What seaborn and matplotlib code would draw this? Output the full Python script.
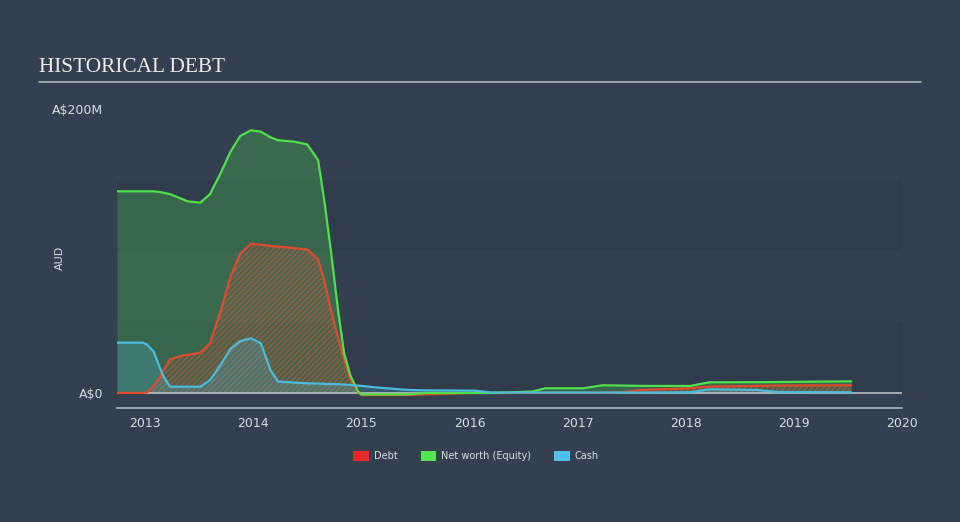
import numpy as np
import pandas as pd
import matplotlib
matplotlib.use("Agg")
import matplotlib.pyplot as plt
from matplotlib.patches import Patch
import seaborn as sns

# ---------------- data (A$ millions, decimal years) ----------------
dates = [2012.74, 2012.98, 2013.02, 2013.08, 2013.14, 2013.17, 2013.23, 2013.33, 2013.39, 2013.51,
         2013.60, 2013.70, 2013.79, 2013.88, 2013.98, 2014.07, 2014.16, 2014.23, 2014.38, 2014.50,
         2014.60, 2014.66, 2014.72, 2014.78, 2014.84, 2014.90, 2014.97, 2015.00, 2015.12, 2015.43,
         2015.59, 2016.05, 2016.21, 2016.58, 2016.70, 2017.05, 2017.23, 2017.42, 2017.57, 2018.04,
         2018.22, 2018.66, 2018.84, 2019.53]
net_worth = [142, 142, 142, 142, 141.5, 141, 140, 137, 135, 134,
             140, 155, 170, 181, 185, 184, 180, 178, 177, 175,
             164, 134, 99, 61, 28, 12, 1, -1, -1, -1,
             0, 0, 0, 1, 3.3, 3.3, 5.4, 5.2, 5.0, 4.9,
             7.5, 7.6, 7.7, 8.2]
debt = [0, 0, 0.5, 5, 11.5, 16, 23.7, 26, 26.8, 28.4,
        35, 58, 82, 98, 105, 104.5, 103.5, 103, 102, 101,
        94, 78, 58, 40, 24, 9, 0.5, -1.5, -1.5, -1.5,
        -1, 0, 0, 0, 0, 0, 0, 0.5, 2, 3.3,
        4.5, 5, 5.2, 5.4]
cash = [35.4, 35.4, 34, 29, 17, 11.5, 4.4, 4.4, 4.4, 4.4,
        9, 20, 31, 36.5, 38.5, 35, 16, 8, 7.3, 6.8,
        6.6, 6.4, 6.3, 6.2, 5.9, 5.6, 5.2, 5.0, 4, 2.1,
        1.8, 1.6, 0.3, 0.3, 0.3, 0.3, 0.3, 0.3, 0.3, 0.5,
        2.6, 2.1, 0.7, 0.5]

series_names = ["Debt", "Net worth (Equity)", "Cash"]
line_colors = {"Debt": "#e04a2f", "Net worth (Equity)": "#4fe04a", "Cash": "#4bbbdc"}
legend_colors = {"Debt": "#e8282b", "Net worth (Equity)": "#52e552", "Cash": "#4fc1e9"}
x_ticks = [2013, 2014, 2015, 2016, 2017, 2018, 2019, 2020]
y_tick_vals = [0, 200]
y_tick_labels = ["A$0", "A$200M"]

BG = "#344050"
BAND = "#303c4c"
TXT = "#d5dbe1"

sns.set_style("dark", {"axes.facecolor": BG, "figure.facecolor": BG})
plt.rcParams["font.family"] = ["DejaVu Sans"]
plt.rcParams["hatch.linewidth"] = 0.6

fig = plt.figure(figsize=(9.6, 5.22), dpi=100)
fig.patch.set_facecolor(BG)
ax = fig.add_axes([117 / 960, (522 - 408) / 522, (902 - 117) / 960, (408 - 109) / 522])
ax.set_facecolor(BG)

ymin, ymax = -10.6, 200
ax.set_xlim(2012.74, 2020.0)
ax.set_ylim(ymin, ymax)

# horizontal background bands
for lo, hi in [(0, 50), (100, 150)]:
    ax.axhspan(lo, hi, xmin=0, xmax=1, color=BAND, zorder=0, lw=0)

df = pd.DataFrame({"date": dates, "Debt": debt, "Net worth (Equity)": net_worth, "Cash": cash})
long = df.melt(id_vars="date", var_name="series", value_name="value")

x = np.array(dates)
# area fills
ax.fill_between(x, 0, np.array(net_worth), color="#52e552", alpha=0.25, lw=0, zorder=1)
ax.fill_between(x, 0, np.array(debt), facecolor=(0.88, 0.3, 0.2, 0.12),
                edgecolor=(0.85, 0.35, 0.25, 0.75), hatch="//////", lw=0, zorder=2)
ax.fill_between(x, 0, np.array(cash), color="#4fc1e9", alpha=0.22, lw=0, zorder=3)

# baseline
ax.axhline(0, color="#b8bec6", lw=1.2, zorder=4)

sns.lineplot(data=long, x="date", y="value", hue="series", hue_order=series_names,
             palette=line_colors, linewidth=1.6, ax=ax, legend=False, zorder=5,
             estimator=None, sort=False)

# axes styling
for s in ["top", "right", "left"]:
    ax.spines[s].set_visible(False)
ax.spines["bottom"].set_color("#aab4c0")
ax.spines["bottom"].set_linewidth(1.2)
ax.set_xticks(x_ticks)
ax.set_xticklabels([str(t) for t in x_ticks])
ax.tick_params(axis="x", colors="#aab4c0", length=6, width=1, labelcolor=TXT, labelsize=9,
               pad=0.5, direction="out")
ax.set_yticks(y_tick_vals)
ax.set_yticklabels(y_tick_labels)
ax.tick_params(axis="y", length=0, labelcolor=TXT, labelsize=9, pad=10)
ax.grid(False)
ax.set_xlabel("")
ax.set_ylabel("")
fig.text(60 / 960, 1 - 258 / 522, "AUD", color=TXT, fontsize=8, rotation=90,
         ha="center", va="center")

# title + rule
fig.text(39 / 960, 1 - 67 / 522, "HISTORICAL DEBT", family="Liberation Serif", fontsize=15.3,
         color="#eceef0", va="center", ha="left")
fig.add_artist(plt.Line2D([39 / 960, 921 / 960], [1 - 82 / 522, 1 - 82 / 522],
                          color="#aab3bd", lw=1.2))

# legend
handles = [Patch(facecolor=legend_colors[n], edgecolor="none", label=n) for n in series_names]
leg = fig.legend(handles=handles, loc="center", bbox_to_anchor=(476 / 960, 1 - 456 / 522), ncol=3,
                 frameon=False, fontsize=7, handlelength=1.6, handleheight=1.3,
                 columnspacing=2.4, handletextpad=0.5)
for t in leg.get_texts():
    t.set_color(TXT)

fig.savefig("out.png", dpi=100, facecolor=BG)
